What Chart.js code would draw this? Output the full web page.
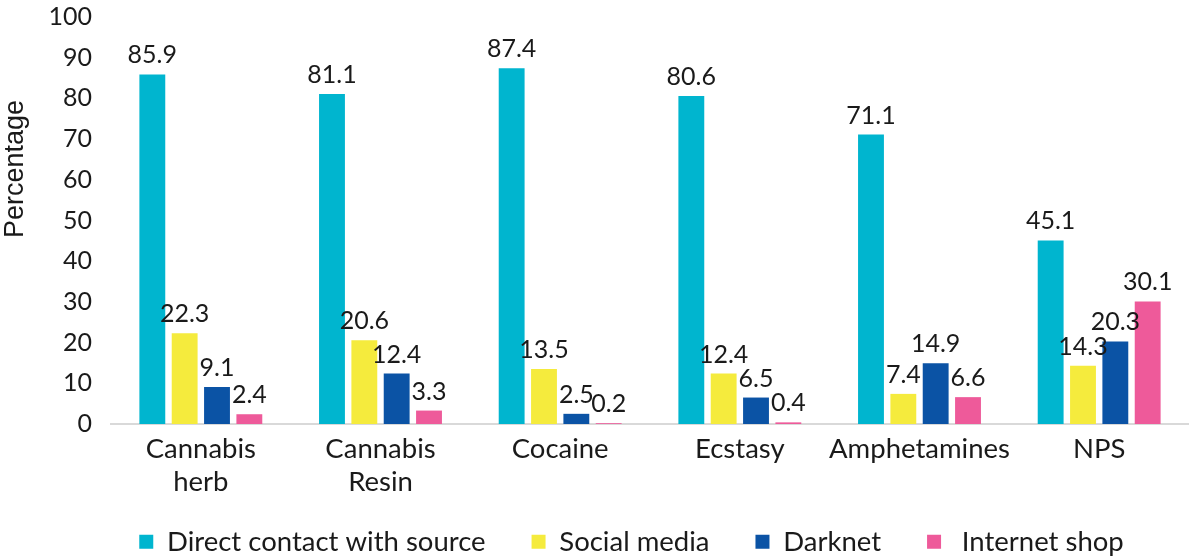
<!DOCTYPE html>
<html lang="en">
<head>
<meta charset="UTF-8">
<title>Source of drugs</title>
<script src="https://cdn.jsdelivr.net/npm/chart.js"></script>
<style>
  html, body { margin: 0; padding: 0; background: #fff; }
  .chart-container { position: relative; width: 1189px; height: 557px; }
</style>
</head>
<body>
<div class="chart-container"><canvas id="drugChart"></canvas></div>
<script>
// data
const categories = [['Cannabis', 'herb'], ['Cannabis', 'Resin'], 'Cocaine', 'Ecstasy', 'Amphetamines', 'NPS'];
const seriesNames = ['Direct contact with source', 'Social media', 'Darknet', ' Internet shop'];
const directContact = [85.9, 81.1, 87.4, 80.6, 71.1, 45.1];
const socialMedia = [22.3, 20.6, 13.5, 12.4, 7.4, 14.3];
const darknet = [9.1, 12.4, 2.5, 6.5, 14.9, 20.3];
const internetShop = [2.4, 3.3, 0.2, 0.4, 6.6, 30.1];
const yMin = 0, yMax = 100, yStep = 10;

const colors = ['#00B5CF', '#F5EB3D', '#0B53A5', '#EE5A9A'];
const textColor = '#1a1a1a';
const mainFont = 'Lato';

// numbers above the bars
const valueLabels = {
    id: 'valueLabels',
    afterDatasetsDraw(chart) {
        const ctx = chart.ctx;
        ctx.save();
        ctx.font = '25px ' + mainFont;
        ctx.fillStyle = textColor;
        ctx.textAlign = 'center';
        ctx.textBaseline = 'alphabetic';
        chart.data.datasets.forEach((ds, i) => {
            chart.getDatasetMeta(i).data.forEach((bar, j) => {
                ctx.fillText(ds.data[j].toFixed(1), bar.x, bar.y - 11);
            });
        });
        ctx.restore();
    }
};

// y title sits higher than the axis centre in the original
const yTitle = {
    id: 'yTitle',
    afterDraw(chart) {
        const ctx = chart.ctx;
        ctx.save();
        ctx.translate(16, 169);
        ctx.rotate(-Math.PI / 2);
        ctx.font = '27px "Liberation Sans"';
        ctx.fillStyle = textColor;
        ctx.textAlign = 'center';
        ctx.textBaseline = 'middle';
        ctx.fillText('Percentage', 0, 0);
        ctx.restore();
    }
};

// tick labels get clipped to their axis box, widen the boxes after layout
const unclipTicks = {
    id: 'unclipTicks',
    afterLayout(chart) {
        chart.scales.x.bottom = chart.height;
        chart.scales.y.left = 0;
    }
};

const seriesData = [directContact, socialMedia, darknet, internetShop];

const chart = new Chart(document.getElementById('drugChart'), {
    type: 'bar',
    data: {
        labels: categories,
        datasets: seriesNames.map((name, i) => ({
            label: name,
            data: seriesData[i],
            backgroundColor: colors[i],
            categoryPercentage: 0.72,
            barPercentage: 0.8
        }))
    },
    options: {
        responsive: true,
        maintainAspectRatio: false,
        animation: false,
        layout: { padding: { top: 0, left: 74, right: 0, bottom: 0 } },
        plugins: {
            legend: {
                position: 'bottom',
                maxHeight: 75,
                labels: {
                    boxWidth: 14,
                    boxHeight: 14,
                    padding: 46,
                    color: textColor,
                    font: { size: 27.5, family: mainFont }
                }
            },
            tooltip: { enabled: false }
        },
        scales: {
            x: {
                grid: { display: false, drawTicks: false },
                border: { color: '#d9d9d9', width: 2 },
                ticks: {
                    color: textColor,
                    font: { size: 27.5, family: mainFont, lineHeight: 1.2 },
                    padding: 9,
                    maxRotation: 0,
                    autoSkip: false
                },
                afterFit: s => { s.height = 58; }
            },
            y: {
                min: yMin,
                max: yMax,
                // invisible tick marks give the gap between labels and bars
                grid: { display: false, drawTicks: true, tickLength: 19 },
                border: { display: false },
                ticks: {
                    stepSize: yStep,
                    padding: 0,
                    color: textColor,
                    font: { size: 25, family: mainFont, lineHeight: 1.36 }
                },
                afterFit: s => { s.width = 37; }
            }
        }
    },
    plugins: [valueLabels, yTitle, unclipTicks]
});
</script>
</body>
</html>
